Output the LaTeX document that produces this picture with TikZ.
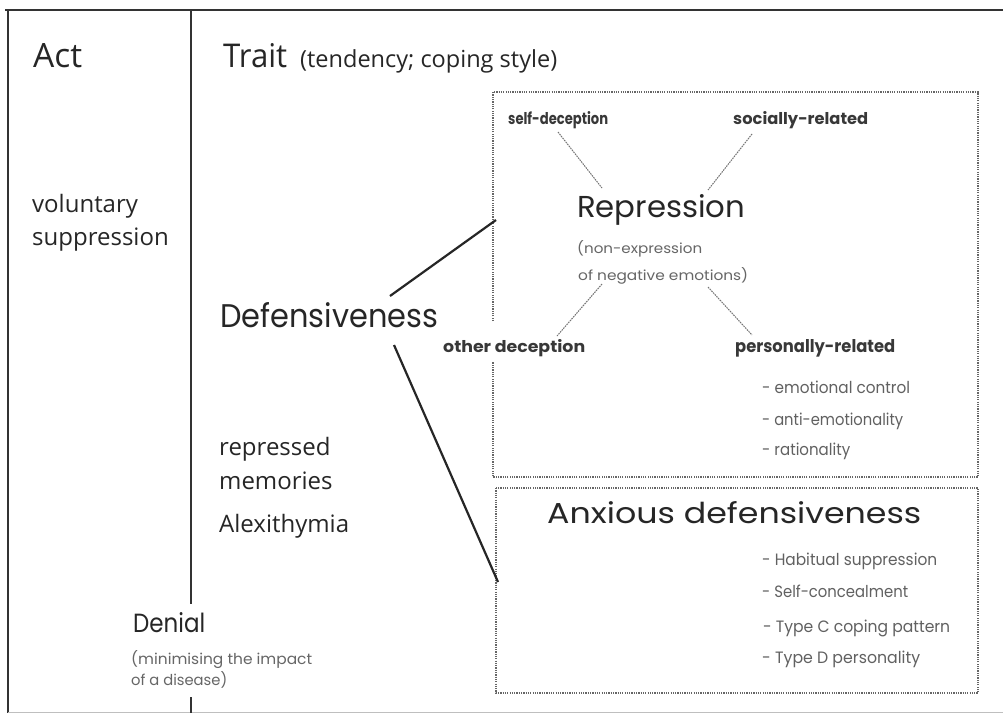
\documentclass[tikz,border=0pt]{standalone}
\usepackage{graphicx}
\usepackage{fontspec}
\setmainfont{Open Sans}
\newfontfamily\geo{Poppins}
\newcommand\tw[2]{\resizebox{#1pt}{!}{#2}}
\newcommand\twh[3]{\resizebox{#1pt}{#2pt}{#3}}
\begin{document}
\begin{tikzpicture}[x=1pt,y=-1pt,
  every node/.style={inner sep=0pt, anchor=base west},
  frame/.style={line width=2.8pt, draw=black!80},
  dotbox/.style={draw=black!60, line width=1.5pt, dash pattern=on 1.2pt off 1.1pt},
  link/.style={line width=2.2pt, draw=black!85},
  fine/.style={draw=black!55, line width=1pt, dash pattern=on 1.6pt off 0.9pt},
  head/.style={text=black!85},
  mid/.style={text=black!85, font=\fontsize{24}{28}\selectfont},
  sub/.style={text=black!60},
  lab/.style={text=black!78, font=\geo\bfseries},
  item/.style={text=black!62, font=\geo}]
\useasboundingbox (0,0) rectangle (1003,713);
\fill[white] (0,0) rectangle (1003,713);
% frame
\draw[frame] (5,10) -- (1003,10);
\draw[frame] (8,10) -- (8,713);
\draw[draw=black!25, line width=0.8pt] (8,712) -- (1003,712);
\coordinate (divtop) at (191,10);
\coordinate (divmid) at (191,604);
\coordinate (divlow) at (191,697);
\coordinate (divbot) at (191,713);
\draw[frame] (divtop) -- (divmid);
\draw[frame] (divlow) -- (divbot);
% boxes
\draw[dotbox] (493,321) -- (493,92) -- (978,92) -- (978,477) -- (493,477) -- (493,362);
\draw[dotbox] (496,488) rectangle (978,693);
% headings
\node[head] (act) at (33,67) {\twh{49}{24}{Act}};
\node[head] (trait) at (223,67) {\twh{64}{24}{Trait}};
\node[head] (traitsub) at (300,67) {\tw{257}{(tendency; coping style)}};
\node[mid] (vol1) at (32,212) {voluntary};
\node[mid] (vol2) at (32,245) {suppression};
\node[mid] (rep1) at (219,455) {repressed};
\node[mid] (rep2) at (219,489) {memories};
\node[mid] (alex) at (219,532) {Alexithymia};
\node[head,font=\geo] (denial) at (133,632) {\twh{72}{20}{Denial}};
\node[sub,font=\geo] (den1) at (131,664) {\twh{181}{14}{(minimising the impact}};
\node[sub,font=\geo] (den2) at (131,685) {\twh{96}{14}{of a disease)}};
\node[head,font=\geo] (def) at (220,327) {\twh{218}{25}{Defensiveness}};
% repression box content
\node[lab] (self) at (508,124) {\twh{100}{13}{self-deception}};
\node[lab] (social) at (733,124) {\twh{135}{13}{socially-related}};
\node[head,font=\geo] (repr) at (577,217) {\twh{168}{23}{Repression}};
\node[sub,font=\geo] (nonexp) at (577,253) {\twh{125}{13}{(non-expression}};
\node[sub,font=\geo] (negemo) at (578,280) {\twh{170}{13}{of negative emotions)}};
\node[lab] (other) at (443,352) {\twh{142}{13}{other deception}};
\node[lab] (person) at (735,352) {\twh{160}{13}{personally-related}};
\node[item] (i1) at (762,393) {\twh{148}{12.5}{- emotional control}};
\node[item] (i2) at (762,425) {\twh{141}{12.5}{- anti-emotionality}};
\node[item] (i3) at (762,455) {\twh{88}{12.5}{- rationality}};
% anxious box content
\node[head,font=\geo] (anx) at (547,523) {\twh{374}{22}{Anxious defensiveness}};
\node[item] (a1) at (762,565) {\twh{175}{12.5}{- Habitual suppression}};
\node[item] (a2) at (762,597) {\twh{146}{12.5}{- Self-concealment}};
\node[item] (a3) at (763,632) {\twh{187}{12.5}{- Type C coping pattern}};
\node[item] (a4) at (762,663) {\twh{158}{12.5}{- Type D personality}};
% connectors
\coordinate (defup) at (390,296);
\coordinate (reprbox) at (496,220);
\coordinate (deflow) at (394,345);
\coordinate (anxbox) at (498,582);
\draw[link] (defup) -- (reprbox);
\draw[link] (deflow) -- (anxbox);
\coordinate (s1) at (558,132);
\coordinate (s2) at (602,188);
\coordinate (c1) at (752,134);
\coordinate (c2) at (708,190);
\coordinate (o1) at (602,284);
\coordinate (o2) at (557,336);
\coordinate (p1) at (708,287);
\coordinate (p2) at (752,335);
\draw[fine] (s1) -- (s2);
\draw[fine] (c1) -- (c2);
\draw[fine] (o1) -- (o2);
\draw[fine] (p1) -- (p2);
\end{tikzpicture}
\end{document}
